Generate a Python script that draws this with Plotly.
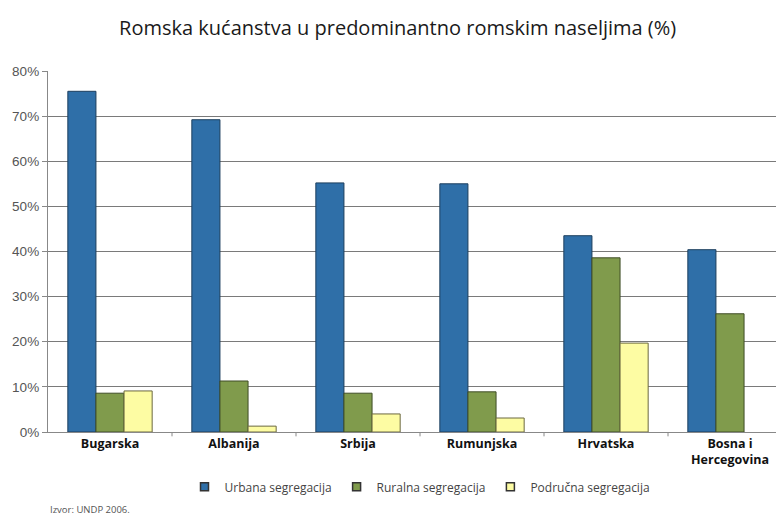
import plotly.graph_objects as go

countries = ["Bugarska", "Albanija", "Srbija", "Rumunjska", "Hrvatska", "Bosna i<br>Hercegovina"]
urbana = [75.5, 69.2, 55.2, 55.0, 43.5, 40.4]
ruralna = [8.6, 11.3, 8.6, 8.9, 38.6, 26.2]
podrucna = [9.1, 1.3, 4.0, 3.1, 19.7, None]
y_ticks = [0, 10, 20, 30, 40, 50, 60, 70, 80]

FONT = "Open Sans, DejaVu Sans, sans-serif"

series = [
    ("Urbana segregacija", urbana, "#2f6fa8", "#1d3f5e"),
    ("Ruralna segregacija", ruralna, "#809b4c", "#3f4d27"),
    ("Područna segregacija", podrucna, "#fdfca3", "#6b6840"),
]

fig = go.Figure()
for name, vals, color, edge in series:
    fig.add_trace(go.Bar(
        x=countries, y=vals, name=name, showlegend=False,
        marker=dict(color=color, line=dict(color=edge, width=1)),
    ))
    # legend entry with small square swatch, like the original
    fig.add_trace(go.Scatter(
        x=[None], y=[None], mode="markers", name=name,
        marker=dict(symbol="square", size=8, color=color,
                    line=dict(color="#333", width=1.5)),
    ))

fig.update_layout(
    width=784, height=520,
    barmode="group",
    bargap=0.32,
    bargroupgap=0,
    plot_bgcolor="white",
    paper_bgcolor="white",
    margin=dict(l=40, r=0, t=63, b=96),
    title=dict(
        text="Romska kućanstva u predominantno romskim naseljima (%)",
        x=0.497, xanchor="center", y=0.9615, yanchor="middle",
        font=dict(family=FONT, size=20, color="#1a1a1a", weight=500),
    ),
    font=dict(family=FONT),
    showlegend=True,
    legend=dict(
        orientation="h", x=0.5, xanchor="center", y=-0.152, yanchor="middle",
        font=dict(family=FONT, size=12, color="#444"),
        itemwidth=30,
    ),
    xaxis=dict(
        showline=True, linecolor="#888", linewidth=1,
        ticks="", tickfont=dict(family=FONT, size=12.5, color="#111", weight="bold"),
        showgrid=False,
    ),
    yaxis=dict(
        range=[0, 80], tickvals=y_ticks,
        ticktext=[f"{v}%" for v in y_ticks],
        showgrid=True, gridcolor="#7a7a7a", gridwidth=1.4,
        showline=True, linecolor="#888", linewidth=1.3,
        ticks="outside", ticklen=5, tickcolor="#888",
        tickfont=dict(family="Liberation Sans, Arial, sans-serif", size=13.5, color="#555"),
        zeroline=False,
    ),
)

# small tick marks between categories
for i in range(len(countries) - 1):
    fig.add_shape(type="line", xref="x", yref="paper",
                  x0=i + 0.5, x1=i + 0.5, y0=0, y1=-0.012,
                  line=dict(color="#888", width=1))

fig.add_annotation(
    text="Izvor: UNDP 2006.", xref="paper", yref="paper",
    x=0.0, y=-0.215, xanchor="left", yanchor="middle", showarrow=False,
    font=dict(family=FONT, size=9.5, color="#555"),
)

fig.write_html("out.html")
